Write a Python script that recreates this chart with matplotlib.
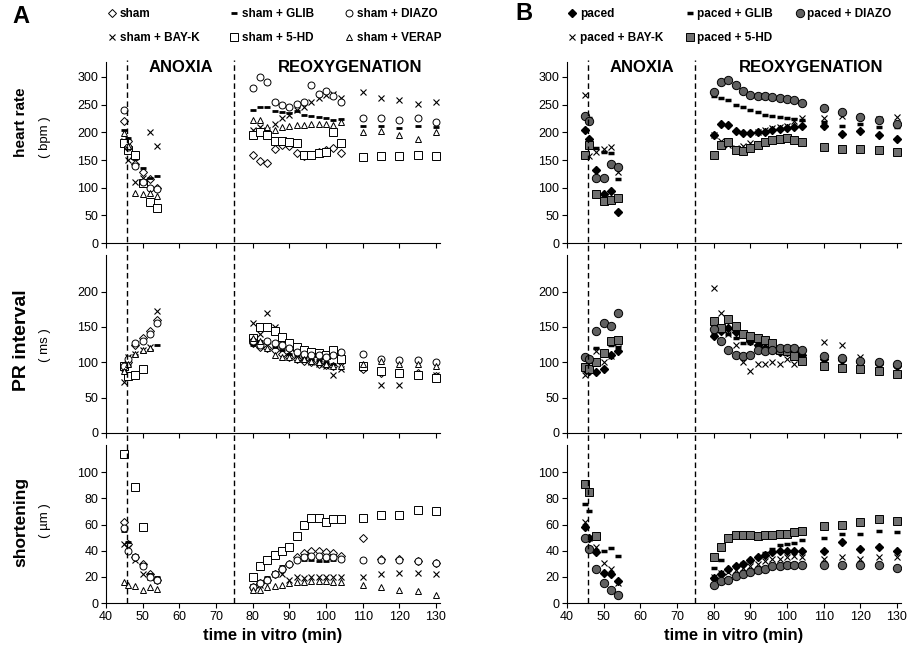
import numpy as np
import matplotlib
matplotlib.use("Agg")
import matplotlib.pyplot as plt
import matplotlib.transforms as mtransforms
from matplotlib.lines import Line2D

plt.rcParams["font.family"] = ["Liberation Sans", "DejaVu Sans"]

# sampling times in vitro (min): anoxia, reoxygenation, late reoxygenation
TIME = [45, 46, 48, 50, 52, 54,
        80, 82, 84, 86, 88, 90, 92, 94, 96, 98, 100, 102, 104,
        110, 115, 120, 125, 130]

ANOXIA_START = 45.7
REOXY_START = 75

# ---------- panel A: sham hearts (None = not visible) ----------
A_NAMES = ["sham", "sham + BAY-K", "sham + GLIB", "sham + 5-HD", "sham + DIAZO", "sham + VERAP"]

hr_a = {
    "sham":         [220, 185, 143, 128, 115, 100,
                     160, 148, 145, 170, 178, 175, 162, 158, 160, 165, 168, 172, 163,
                     None, None, None, None, None],
    "sham + GLIB":  [205, 190, 152, 135, 118, 122,
                     240, 245, 245, 238, 237, 235, 238, 232, 230, 228, 225, 222, 224,
                     212, 212, 208, 212, 210],
    "sham + DIAZO": [240, 173, 140, 110, 100, 98,
                     280, 300, 290, 255, 250, 245, 252, 255, 285, 270, 275, 265, 255,
                     225, 225, 222, 225, 218],
    "sham + BAY-K": [185, 150, 110, 118, 200, 175,
                     205, 210, 205, 215, 225, 232, 240, 245, 255, 262, 268, 270, 262,
                     272, 262, 258, 252, 255],
    "sham + 5-HD":  [180, 168, 160, 108, 75, 64,
                     195, 200, 195, 185, 185, 183, 180, 160, 160, 163, 165, 200, 180,
                     155, 157, 157, 160, 157],
    "sham + VERAP": [198, 175, 90, 89, 90, 86,
                     222, 222, 210, 205, 210, 212, 213, 214, 215, 215, 215, 214, 218,
                     200, 202, 195, 188, 200],
}

pr_a = {
    "sham":         [90, 100, 125, 135, 145, 160,
                     128, 122, 120, 118, 112, 108, 105, 102, 100, 98, 96, 95, 100,
                     90, 85, 85, 85, 80],
    "sham + GLIB":  [92, 96, 110, 115, 118, 124,
                     125, 130, 128, 122, 118, 112, 110, 108, 105, 103, 100, 98, 100,
                     92, 88, 85, 85, 82],
    "sham + DIAZO": [95, 105, 128, 130, 140, 155,
                     130, 125, 130, 128, 125, 120, 115, 112, 110, 110, 108, 110, 115,
                     112, 105, 103, 103, 100],
    "sham + BAY-K": [72, 108, 112, 117, 122, 172,
                     155, 140, 170, 150, 125, 115, 110, 105, 100, 98, 95, 82, 90,
                     92, 68, 68, 80, 82],
    "sham + 5-HD":  [95, 80, 82, 90, None, None,
                     135, 150, 150, 145, 136, 127, 122, 117, 115, 113, 110, 118, 105,
                     95, 88, 85, 82, 78],
    "sham + VERAP": [88, 98, 112, 118, 120, None,
                     135, 130, 120, 110, 108, 108, 105, 104, 102, 100, 98, 95, 95,
                     98, 102, 98, 98, 95],
}

sh_a = {
    "sham":         [62, 45, 35, 30, 22, 18,
                     12, 15, 18, 22, 26, 30, 35, 38, 40, 40, 39, 38, 36,
                     50, 34, 34, 32, 31],
    "sham + GLIB":  [55, 47, 37, 30, 22, 20,
                     14, 17, 20, 24, 28, 31, 34, 33, 33, 32, 32, 33, 33,
                     33, 32, 33, 32, 31],
    "sham + DIAZO": [57, 40, 35, 28, 20, 18,
                     12, 15, 18, 22, 26, 30, 33, 35, 36, 36, 35, 35, 34,
                     33, 33, 33, 32, 31],
    "sham + BAY-K": [45, 42, 33, 22, 20, 18,
                     12, 14, 18, 22, 22, 18, 20, 19, 20, 20, 20, 20, 20,
                     20, 22, 23, 23, 22],
    "sham + 5-HD":  [114, None, 89, 58, None, None,
                     20, 28, 33, 37, 40, 43, 51, 60, 65, 65, 62, 64, 64,
                     65, 67, 67, 71, 70],
    "sham + VERAP": [16, 14, 13, 10, 12, 11,
                     10, 10, 12, 13, 14, 15, 16, 16, 17, 17, 17, 16, 16,
                     14, 12, 10, 9, 6],
}

# ---------- panel B: paced hearts ----------
B_NAMES = ["paced", "paced + BAY-K", "paced + GLIB", "paced + 5-HD", "paced + DIAZO"]

hr_b = {
    "paced":         [205, 188, 132, 89, 94, 56,
                      195, 215, 213, 203, 199, 199, 200, 201, 205, 206, 208, 210, 212,
                      211, 197, 203, 196, 188],
    "paced + GLIB":  [228, 226, 172, 165, 163, 115,
                      265, 262, 258, 250, 246, 240, 236, 232, 229, 228, 226, 224, 222,
                      218, 212, 215, 209, 210],
    "paced + DIAZO": [229, 220, 118, 117, 143, 138,
                      272, 290, 295, 285, 275, 268, 266, 265, 264, 262, 260, 258, 253,
                      244, 236, 228, 222, 215],
    "paced + BAY-K": [268, 158, 165, 170, 174, 128,
                      196, 185, 178, 172, 175, 180, 200, 205, 208, 210, 212, 220, 225,
                      226, 230, 228, 224, 228],
    "paced + 5-HD":  [160, 177, 89, 77, 78, 82,
                      160, 177, 182, 168, 166, 171, 177, 183, 186, 188, 189, 187, 183,
                      173, 170, 170, 168, 165],
}

pr_b = {
    "paced":         [90, 88, 86, 90, 110, 116,
                      137, 145, 149, 143, 140, 130, 125, 120, 118, 115, 115, 112, 110,
                      104, 103, 100, 97, 95],
    "paced + GLIB":  [95, 100, 120, 115, 125, 122,
                      140, 145, 140, 135, 128, 127, 125, 122, 120, 118, 116, 114, 112,
                      None, None, None, None, None],
    "paced + DIAZO": [108, 105, 144, 155, 151, 170,
                      147, 130, 117, 111, 109, 110, 118, 116, 118, 120, 120, 120, 117,
                      109, 106, 102, 100, 97],
    "paced + BAY-K": [82, 90, 116, 100, 109, 120,
                      205, 170, 140, 125, 101, 88, 98, 98, 101, 98, 104, 97, 100,
                      129, 124, 108, 100, 96],
    "paced + 5-HD":  [94, 91, 100, 113, 130, 132,
                      158, 148, 161, 151, 140, 137, 135, 132, 128, 118, 116, 109, 102,
                      95, 92, 90, 88, 84],
}

sh_b = {
    "paced":         [58, 50, 39, 23, 22, 17,
                      19, 22, 26, 28, 30, 33, 35, 37, 39, 40, 40, 40, 40,
                      40, 47, 41, 43, 40],
    "paced + GLIB":  [76, 70, 50, 40, 42, 36,
                      27, 33, 25, 28, 31, 32, 35, 38, 41, 44, 45, 46, 48,
                      50, 53, 53, 55, 54],
    "paced + DIAZO": [50, 41, 26, 15, 10, 6,
                      14, 17, 18, 21, 22, 24, 25, 26, 28, 28, 29, 29, 29,
                      29, 29, 29, 29, 27],
    "paced + BAY-K": [62, 50, 43, 31, 26, 15,
                      20, 23, 24, 25, 27, 28, 30, 32, 34, 34, 35, 36, 35,
                      34, 35, 34, 35, 35],
    "paced + 5-HD":  [91, 85, 51, None, None, None,
                      35, 43, 50, 52, 52, 52, 51, 52, 52, 53, 53, 54, 55,
                      59, 60, 62, 64, 63],
}

# marker styles (open symbols for sham, filled for paced)
open_kw = dict(mfc="white", mec="black", mew=0.7)
STYLE_A = {
    "sham":         dict(marker="D", ms=4, **open_kw),
    "sham + GLIB":  dict(marker="_", ms=4.5, mew=2, color="black"),
    "sham + DIAZO": dict(marker="o", ms=5, **open_kw),
    "sham + BAY-K": dict(marker="x", ms=5, mew=0.8, color="black"),
    "sham + 5-HD":  dict(marker="s", ms=5.5, **open_kw),
    "sham + VERAP": dict(marker="^", ms=4.5, **open_kw),
}
STYLE_B = {
    "paced":         dict(marker="D", ms=4.5, color="black"),
    "paced + GLIB":  dict(marker="_", ms=5, mew=2.5, color="black"),
    "paced + DIAZO": dict(marker="o", ms=6, mfc="#606060", mec="black", mew=0.7),
    "paced + BAY-K": dict(marker="x", ms=5, mew=0.8, color="black"),
    "paced + 5-HD":  dict(marker="s", ms=6, mfc="#707070", mec="black", mew=0.7),
}

fig = plt.figure(figsize=(9.14, 6.52), dpi=100)

# (bottom, height, ymax, yticks) for heart rate, PR interval, shortening
ROWS = [(0.627, 0.278, 327, np.arange(0, 301, 50)),
        (0.336, 0.273, 252, np.arange(0, 201, 50)),
        (0.075, 0.242, 120.5, np.arange(0, 101, 20))]


def make_column(left, data_rows, styles, names):
    axes = []
    for (bottom, height, ymax, yticks), data in zip(ROWS, data_rows):
        ax = fig.add_axes([left, bottom, 0.365, height])
        for name in names:
            ax.plot(TIME, np.array(data[name], dtype=float), linestyle="none",
                    label=name, **styles[name])
        ax.set_xlim(40, 131)
        ax.set_ylim(0, ymax)
        ax.set_xticks(np.arange(40, 131, 10))
        ax.set_yticks(yticks)
        ax.spines["top"].set_visible(False)
        ax.spines["right"].set_visible(False)
        for s in ("left", "bottom"):
            ax.spines[s].set_linewidth(0.8)
        ax.tick_params(direction="out", length=3.5, width=0.8, labelsize=9, pad=2)
        axes.append(ax)
    for ax in axes[:-1]:
        ax.tick_params(labelbottom=False)
    axes[-1].set_xlabel("time in vitro (min)", fontsize=12, fontweight="bold")

    # phase boundaries run through all three plots
    trans = mtransforms.blended_transform_factory(axes[0].transData, fig.transFigure)
    for xv in (ANOXIA_START, REOXY_START):
        fig.add_artist(Line2D([xv, xv], [0.075, 0.908], transform=trans,
                              color="black", lw=1, linestyle=(0, (4, 2.5))))
    tt = mtransforms.blended_transform_factory(axes[0].transData, axes[0].transAxes)
    axes[0].text(60.3, 0.972, "ANOXIA", transform=tt, ha="center", va="center",
                 fontsize=12, fontweight="bold")
    axes[0].text(106.5, 0.972, "REOXYGENATION", transform=tt, ha="center", va="center",
                 fontsize=12, fontweight="bold")
    return axes


axes_a = make_column(0.116, [hr_a, pr_a, sh_a], STYLE_A, A_NAMES)
axes_b = make_column(0.6204, [hr_b, pr_b, sh_b], STYLE_B, B_NAMES)

# legends above each panel
for axes, x0, colsp in ((axes_a, 0.118, 2.6), (axes_b, 0.6215, 1.9)):
    h, l = axes[0].get_legend_handles_labels()
    fig.legend(h, l, ncol=3, loc="upper left", bbox_to_anchor=(x0, 0.987),
               frameon=False, prop=dict(size=8.5, weight="bold"), handlelength=0.7,
               handletextpad=0.3, columnspacing=colsp, labelspacing=0.95,
               borderpad=0, borderaxespad=0)

# panel letters and y labels
fig.text(0.023, 0.975, "A", fontsize=17, fontweight="bold", ha="center", va="center")
fig.text(0.573, 0.980, "B", fontsize=17, fontweight="bold", ha="center", va="center")

ylabels = [("heart rate", "( bpm )", 0.813, 0.790, 11),
           ("PR interval", "( ms )", 0.479, 0.471, 14),
           ("shortening", "( µm )", 0.199, 0.202, 12.5)]
for name, unit, y1, y2, fs in ylabels:
    fig.text(0.023, y1, name, rotation=90, fontsize=fs, fontweight="bold",
             ha="center", va="center")
    fig.text(0.049, y2, unit, rotation=90, fontsize=9.5, ha="center", va="center")

fig.savefig("out.png", dpi=100)
